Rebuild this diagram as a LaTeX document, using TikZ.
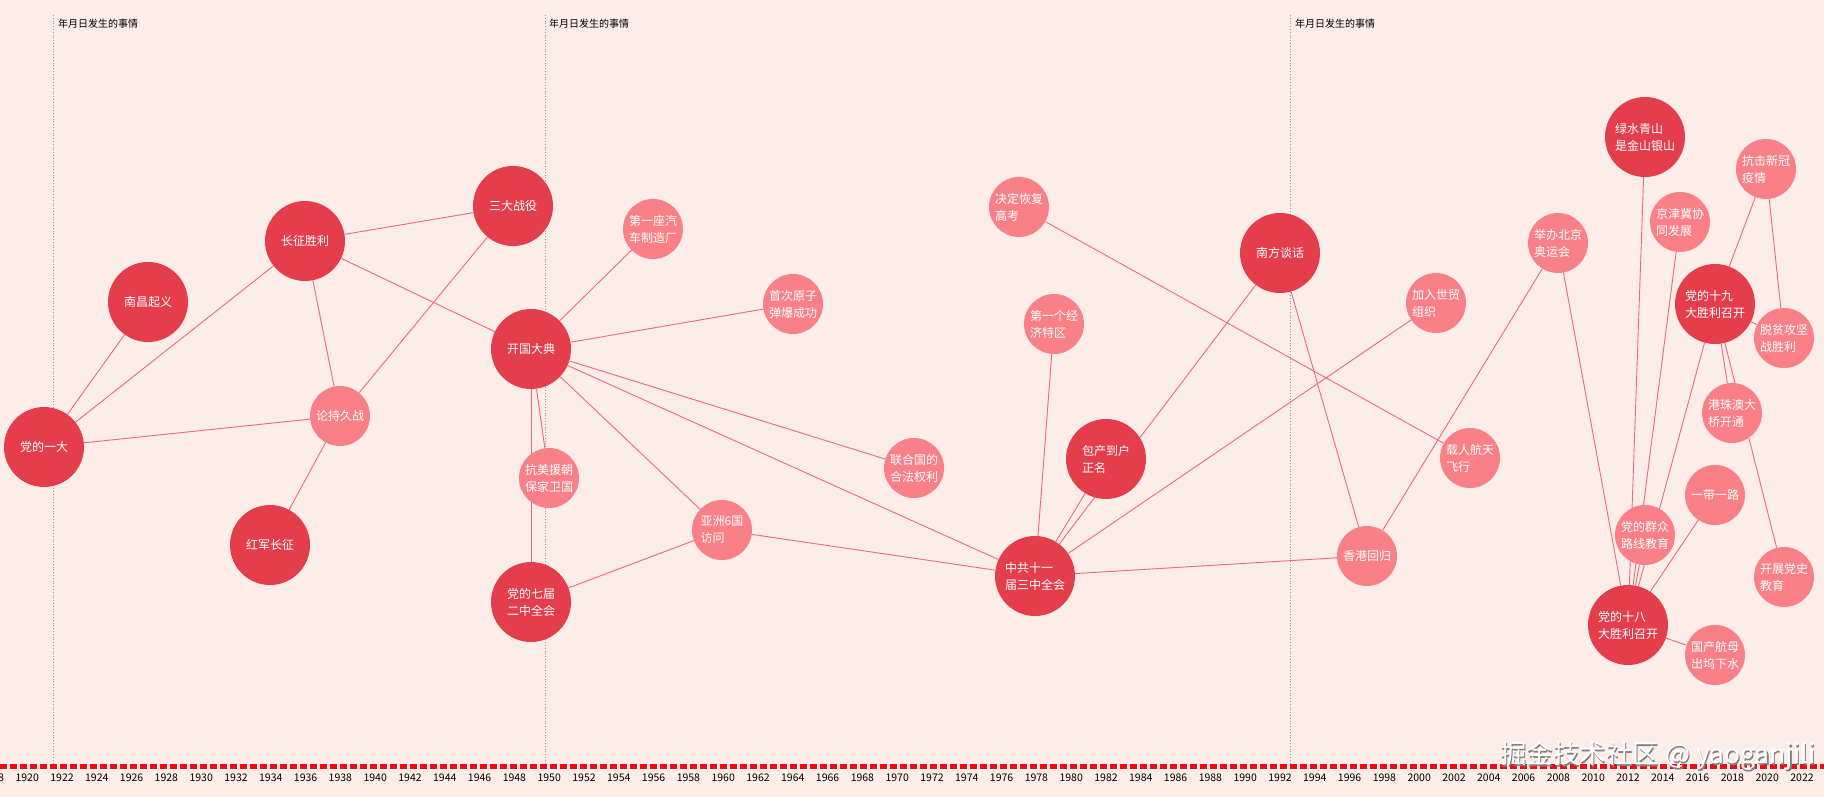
\documentclass[tikz,border=0pt]{standalone}
\usepackage{fontspec}
\setmainfont{Noto Sans CJK SC}
\usepackage{tikz}
\usetikzlibrary{backgrounds}

\definecolor{bgpink}{RGB}{253,237,233}
\definecolor{bigred}{RGB}{228,62,77}
\definecolor{smallred}{RGB}{250,128,136}
\definecolor{linkred}{RGB}{238,105,122}
\definecolor{axisred}{RGB}{236,12,22}

\tikzset{
  big/.style={circle, fill=bigred, minimum size=80pt, inner sep=0pt, text=white, align=left, font=\fontsize{12}{17}\selectfont},
  small/.style={big, fill=smallred, minimum size=60pt},
  link/.style={draw=linkred, line width=0.9pt},
  guide/.style={draw=gray!80, dotted, line width=0.8pt},
  note/.style={anchor=west, inner sep=0pt, font=\fontsize{10}{12}\selectfont},
  year/.style={inner sep=0pt, font=\fontsize{10.5}{12}\selectfont}
}

\begin{document}
\begin{tikzpicture}[x=1pt,y=-1pt]
                \useasboundingbox (0,0) rectangle (1824,797);
                \node[big] (yida) at (44,447) {党的一大};
                \node[big] (nanchang) at (148,302) {南昌起义};
                \node[big] (changzheng) at (305,241) {长征胜利};
                \node[big] (sanda) at (513,206) {三大战役};
                \node[small] (lunchi) at (340,416) {论持久战};
                \node[big] (hongjun) at (270,545) {红军长征};
                \node[big] (kaiguo) at (531,349) {开国大典};
                \node[small] (kangmei) at (549,478) {抗美援朝\\保家卫国};
                \node[big] (qijie) at (531,602) {党的七届\\二中全会};
                \node[small] (qiche) at (653,229) {第一座汽\\车制造厂};
                \node[small] (yuanzi) at (793,304) {首次原子\\弹爆成功};
                \node[small] (lianheguo) at (914,468) {联合国的\\合法权利};
                \node[small] (yazhou) at (722,530) {亚洲6国\\访问};
                \node[small] (gaokao) at (1019,207) {决定恢复\\高考};
                \node[small] (tequ) at (1054,324) {第一个经\\济特区};
                \node[big] (baochan) at (1106,459) {包产到户\\正名};
                \node[big] (sanzhong) at (1035,576) {中共十一\\届三中全会};
                \node[big] (nanfang) at (1280,253) {南方谈话};
                \node[small] (shimao) at (1436,303) {加入世贸\\组织};
                \node[small] (hangtian) at (1470,458) {载人航天\\飞行};
                \node[small] (xianggang) at (1367,556) {香港回归};
                \node[small] (aoyun) at (1558,243) {举办北京\\奥运会};
                \node[big] (lvshui) at (1645,137) {绿水青山\\是金山银山};
                \node[small] (jingjinji) at (1680,222) {京津冀协\\同发展};
                \node[small] (xinguan) at (1766,169) {抗击新冠\\疫情};
                \node[big] (shijiu) at (1715,304) {党的十九\\大胜利召开};
                \node[small] (tuopin) at (1784,338) {脱贫攻坚\\战胜利};
                \node[small] (gangzhuao) at (1732,413) {港珠澳大\\桥开通};
                \node[small] (yidai) at (1715,495) {一带一路};
                \node[small] (qunzhong) at (1645,535) {党的群众\\路线教育};
                \node[small] (dangshi) at (1784,577) {开展党史\\教育};
                \node[big] (shiba) at (1628,625) {党的十八\\大胜利召开};
                \node[small] (hangmu) at (1715,655) {国产航母\\出坞下水};
                \begin{scope}[on background layer]
                \fill[bgpink] (0,0) rectangle (1824,797);
                \draw[guide] (53.6,15) -- (53.6,763);
                \draw[guide] (545,15) -- (545,763);
                \draw[guide] (1290.7,15) -- (1290.7,763);
                \draw[link] (yida) -- (nanchang);
                \draw[link] (yida) -- (changzheng);
                \draw[link] (yida) -- (lunchi);
                \draw[link] (changzheng) -- (sanda);
                \draw[link] (changzheng) -- (kaiguo);
                \draw[link] (changzheng) -- (lunchi);
                \draw[link] (sanda) -- (lunchi);
                \draw[link] (lunchi) -- (hongjun);
                \draw[link] (kaiguo) -- (qiche);
                \draw[link] (kaiguo) -- (yuanzi);
                \draw[link] (kaiguo) -- (lianheguo);
                \draw[link] (kaiguo) -- (sanzhong);
                \draw[link] (kaiguo) -- (yazhou);
                \draw[link] (kaiguo) -- (kangmei);
                \draw[link] (kaiguo) -- (qijie);
                \draw[link] (qijie) -- (yazhou);
                \draw[link] (yazhou) -- (sanzhong);
                \draw[link] (sanzhong) -- (tequ);
                \draw[link] (sanzhong) -- (baochan);
                \draw[link] (sanzhong) -- (nanfang);
                \draw[link] (sanzhong) -- (shimao);
                \draw[link] (sanzhong) -- (xianggang);
                \draw[link] (gaokao) -- (hangtian);
                \draw[link] (nanfang) -- (xianggang);
                \draw[link] (xianggang) -- (aoyun);
                \draw[link] (aoyun) -- (shiba);
                \draw[link] (lvshui) -- (shiba);
                \draw[link] (jingjinji) -- (shiba);
                \draw[link] (shijiu) -- (shiba);
                \draw[link] (qunzhong) -- (shiba);
                \draw[link] (yidai) -- (shiba);
                \draw[link] (hangmu) -- (shiba);
                \draw[link] (shijiu) -- (xinguan);
                \draw[link] (shijiu) -- (tuopin);
                \draw[link] (xinguan) -- (tuopin);
                \draw[link] (shijiu) -- (gangzhuao);
                \draw[link] (shijiu) -- (dangshi);
                \end{scope}
                \node[note] (t1) at (58,24) {年月日发生的事情};
                \node[note] (t2) at (549,24) {年月日发生的事情};
                \node[note] (t3) at (1295,24) {年月日发生的事情};
                \draw[axisred, line width=5pt, dash pattern=on 7pt off 3pt] (0,766) -- (1824,766);
                \foreach \y in {1918,1920,...,2022}
                    \node[year] (y\y) at ({62+(\y-1922)*17.4},778) {\y};
                \node[anchor=west, inner sep=0pt, text=gray, font=\fontsize{26.5}{28}\selectfont] (wm0) at (1501.2,757.2) {掘金技术社区 @ yaoganjili};
                \node[anchor=west, inner sep=0pt, text=white, font=\fontsize{26.5}{28}\selectfont] (wm) at (1500,756) {掘金技术社区 @ yaoganjili};
                \end{tikzpicture}
\end{document}
